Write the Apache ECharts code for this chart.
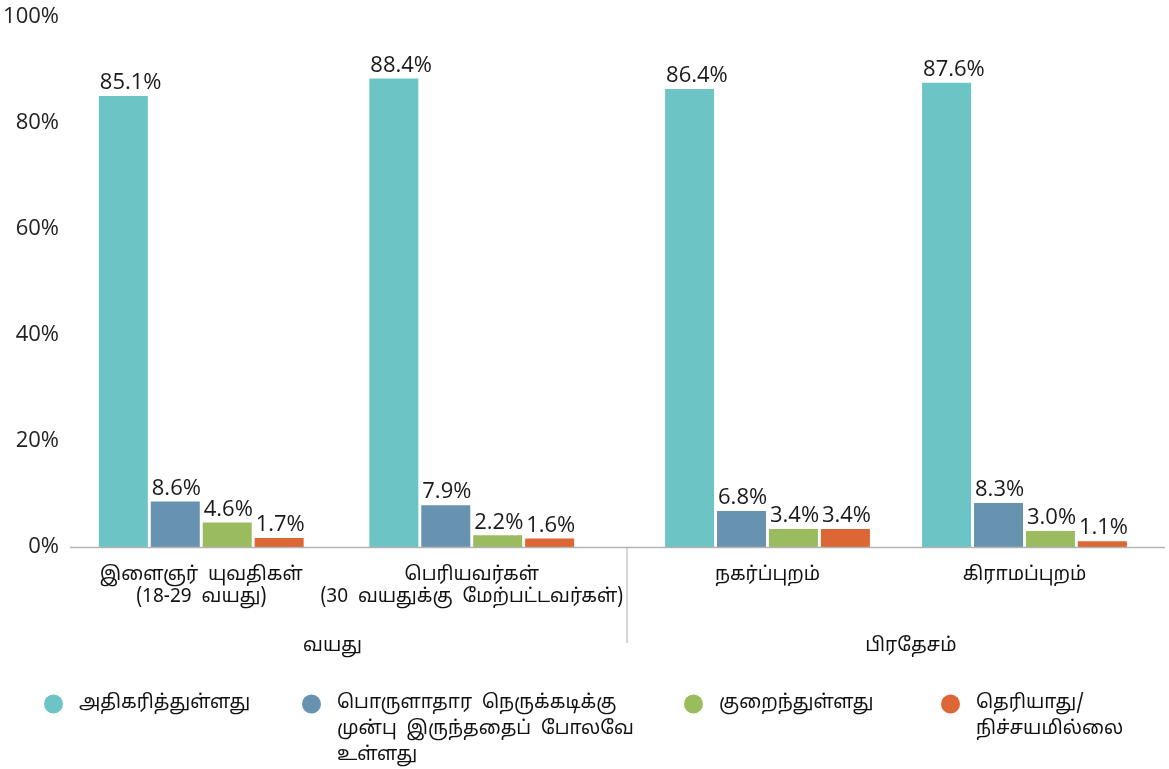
<!DOCTYPE html>
<html>
<head>
<meta charset="utf-8">
<script src="https://cdn.jsdelivr.net/npm/echarts@6/dist/echarts.min.js"></script>
<style>
  html, body { margin: 0; padding: 0; background: #fff; }
  #chart { width: 1169px; height: 769px; }
</style>
</head>
<body>
<div id="chart"></div>
<script>
// categories, split into the two panes (age / region)
const ageCats = ['இளைஞர்  யுவதிகள்\n(18-29  வயது)', 'பெரியவர்கள்\n(30  வயதுக்கு  மேற்பட்டவர்கள்)'];
const regionCats = ['நகர்ப்புறம்', 'கிராமப்புறம்'];
const groupNames = ['வயது', 'பிரதேசம்'];

const seriesNames = [
  'அதிகரித்துள்ளது',
  'பொருளாதார  நெருக்கடிக்கு\nமுன்பு  இருந்ததைப்  போலவே\nஉள்ளது',
  'குறைந்துள்ளது',
  'தெரியாது/\nநிச்சயமில்லை'
];
const colors = ['#6cc4c5', '#6893b0', '#9bbb5f', '#dc6634'];

// values per series: [youth, adults, urban, rural]
const increased = [85.1, 88.4, 86.4, 87.6];
const same = [8.6, 7.9, 6.8, 8.3];
const decreased = [4.6, 2.2, 3.4, 3.0];
const dontKnow = [1.7, 1.6, 3.4, 1.1];
const allValues = [increased, same, decreased, dontKnow];

const yTicks = [0, 20, 40, 60, 80, 100];

const tamilFont = "'Noto Sans Tamil', 'Noto Serif Tamil', 'Lohit Tamil', 'Latha', 'Liberation Serif', serif";
const numFont = "'Open Sans', 'Noto Sans', sans-serif";

const chart = echarts.init(document.getElementById('chart'));

const catAxis = (gridIndex, data) => ({
  type: 'category',
  gridIndex: gridIndex,
  data: data,
  axisLine: { show: false },
  axisTick: { show: false },
  axisLabel: {
    interval: 0,
    margin: 18,
    fontFamily: tamilFont,
    fontSize: 19,
    lineHeight: 22,
    color: '#111'
  }
});

const groupAxis = (gridIndex, name, shift) => ({
  type: 'category',
  gridIndex: gridIndex,
  position: 'bottom',
  data: [name],
  axisLine: { show: false },
  axisTick: { show: false },
  axisLabel: {
    interval: 0,
    margin: 89,
    padding: shift,
    fontFamily: tamilFont,
    fontSize: 19,
    lineHeight: 22,
    color: '#111'
  }
});

const valAxis = (gridIndex, showLabels) => ({
  type: 'value',
  gridIndex: gridIndex,
  min: yTicks[0],
  max: yTicks[yTicks.length - 1],
  interval: 20,
  splitLine: { show: false },
  axisLine: { show: false },
  axisTick: { show: false },
  axisLabel: {
    show: showLabels,
    margin: 7,
    fontFamily: numFont,
    fontSize: 22,
    color: '#222',
    formatter: '{value}%'
  }
});

const series = [];
[0, 1].forEach((g) => {
  allValues.forEach((vals, i) => {
    series.push({
      name: seriesNames[i],
      type: 'bar',
      xAxisIndex: g * 2,
      yAxisIndex: g,
      data: vals.slice(g * 2, g * 2 + 2),
      barWidth: 49,
      barGap: '6%',
      itemStyle: { color: colors[i] },
      label: {
        show: true,
        position: [1, -2],
        align: 'left',
        verticalAlign: 'bottom',
        fontFamily: numFont,
        fontSize: 22,
        color: '#1a1a1a',
        formatter: (p) => p.value.toFixed(1) + '%'
      }
    });
  });
});

// legends: one per item so the wrapped texts can sit where they do
const legendLeft = [44, 302, 684, 941];
const legendTop = [691, 639, 691, 665];
const legends = seriesNames.map((name, i) => {
  const lines = name.split('\n').length;
  const pad = '\n'.repeat(lines - 1);
  return {
    data: [name],
    left: legendLeft[i],
    top: legendTop[i],
    padding: 0,
    icon: 'circle',
    itemWidth: 19,
    itemHeight: 19,
    selectedMode: false,
    formatter: (n) => pad + n,
    textStyle: {
      fontFamily: tamilFont,
      fontSize: 19,
      lineHeight: 26,
      color: '#111',
      padding: [0, 0, 0, 11]
    }
  };
});

chart.setOption({
  animation: false,
  grid: [
    { left: 66, width: 541, top: 17, bottom: 222 },
    { left: 639, width: 514, top: 17, bottom: 222 }
  ],
  xAxis: [
    catAxis(0, ageCats),
    groupAxis(0, groupNames[0], [0, 8, 0, 0]),
    catAxis(1, regionCats),
    groupAxis(1, groupNames[1], [0, 0, 0, 30])
  ],
  yAxis: [valAxis(0, true), valAxis(1, false)],
  legend: legends,
  series: series,
  graphic: [
    {
      type: 'line',
      shape: { x1: 70, y1: 547.5, x2: 1165, y2: 547.5 },
      style: { stroke: '#b3b3b3', lineWidth: 1.5 },
      z: 10
    },
    {
      type: 'line',
      shape: { x1: 627, y1: 547, x2: 627, y2: 643 },
      style: { stroke: '#c8c8c8', lineWidth: 1.5 }
    }
  ]
});
</script>
</body>
</html>
